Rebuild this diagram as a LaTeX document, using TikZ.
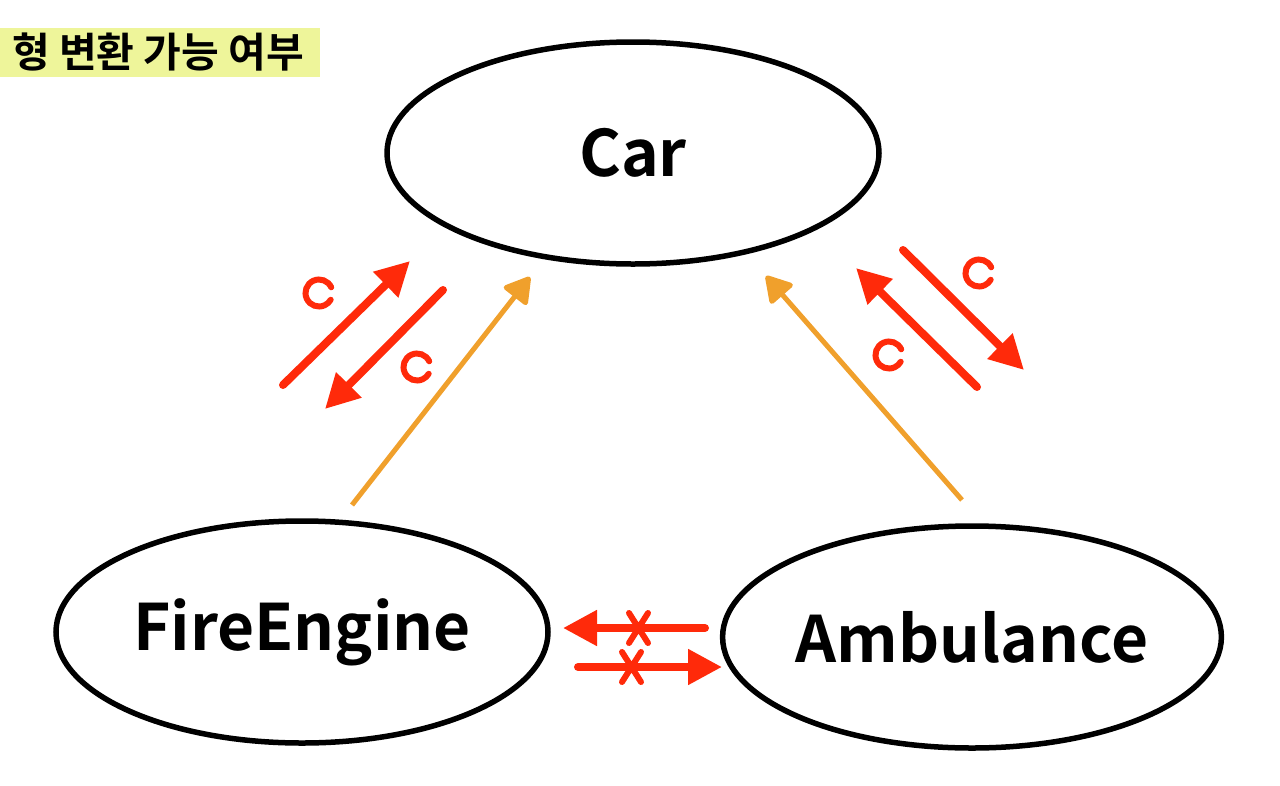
\documentclass[tikz,border=0pt]{standalone}
\usepackage{fontspec}
\setmainfont{Noto Sans CJK KR}[BoldFont={* Bold}]
\newfontfamily\krbold{Noto Sans CJK KR Bold}
\usetikzlibrary{shapes.geometric,arrows.meta}
\definecolor{titlebg}{HTML}{EEF59A}
\definecolor{redink}{HTML}{FF2A0A}
\definecolor{orangeink}{HTML}{F0A02C}
\tikzset{
  ovalbox/.style={ellipse, draw=black, line width=5.5pt, minimum width=492pt, minimum height=222pt, inner sep=0pt, font=\krbold\fontsize{64}{72}\selectfont},
  orangearrow/.style={draw=orangeink, line width=5pt, -{Triangle[length=28pt,width=32pt,round]}},
  redarrow/.style={draw=redink, line width=8pt, line cap=round, -{Triangle[length=34pt,width=34pt]}},
  redmark/.style={draw=redink, line width=6pt, line cap=round},
}
\begin{document}
\begin{tikzpicture}[x=1pt,y=-1pt]
\useasboundingbox (0,0) rectangle (1280,785);
\fill[titlebg] (0,28) rectangle (320,77);
\node[font=\krbold\fontsize{41}{48}\selectfont, anchor=center] (title) at (158,52) {형 변환 가능 여부};

\node[ovalbox] (car) at (633,153) {Car};
\node[ovalbox] (fe) at (302,632) {FireEngine};
\node[ovalbox] (amb) at (972,637) {Ambulance};

% orange arrows
\coordinate (o1s) at (352,505);
\coordinate (o1e) at (530,277);
\coordinate (o2s) at (962,500);
\coordinate (o2e) at (766,276);
\draw[orangearrow] (o1s) -- (o1e);
\draw[orangearrow] (o2s) -- (o2e);

% left red pair
\coordinate (l1s) at (283,385);
\coordinate (l1e) at (410,261);
\coordinate (l2s) at (443,290);
\coordinate (l2e) at (325,409);
\draw[redarrow] (l1s) -- (l1e);
\draw[redarrow] (l2s) -- (l2e);
\draw[redmark] (319,293) ++(25:13.5pt) arc[start angle=25,end angle=330,radius=13.5pt];
\draw[redmark] (417,367) ++(25:13.5pt) arc[start angle=25,end angle=330,radius=13.5pt];

% right red pair
\coordinate (r1s) at (977,387);
\coordinate (r1e) at (856,268);
\coordinate (r2s) at (903,250);
\coordinate (r2e) at (1024,370);
\draw[redarrow] (r1s) -- (r1e);
\draw[redarrow] (r2s) -- (r2e);
\draw[redmark] (979,273) ++(25:13.5pt) arc[start angle=25,end angle=330,radius=13.5pt];
\draw[redmark] (889,355) ++(25:13.5pt) arc[start angle=25,end angle=330,radius=13.5pt];

% bottom red pair
\coordinate (b1s) at (705,628);
\coordinate (b1e) at (563,628);
\coordinate (b2s) at (578,667);
\coordinate (b2e) at (722,667);
\draw[redarrow] (b1s) -- (b1e);
\draw[redarrow] (b2s) -- (b2e);
\draw[redmark] (629,613) -- (648,643) (648,613) -- (629,643);
\draw[redmark] (622,652) -- (641,682) (641,652) -- (622,682);
\end{tikzpicture}
\end{document}
